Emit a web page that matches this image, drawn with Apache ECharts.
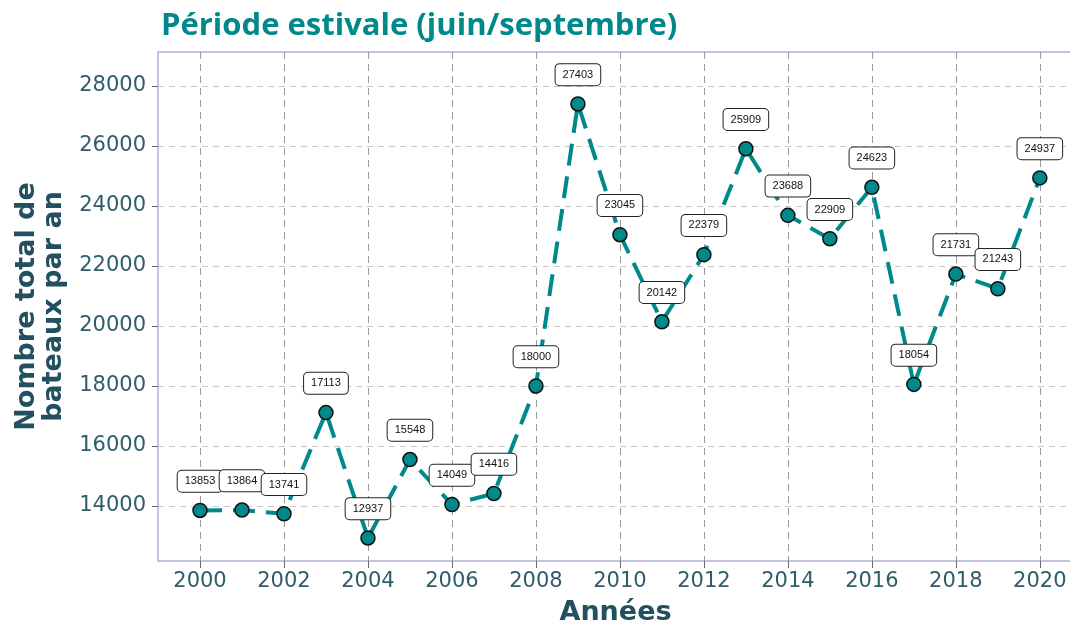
<!DOCTYPE html>
<html>
<head>
<meta charset="utf-8">
<script src="https://cdn.jsdelivr.net/npm/echarts@6/dist/echarts.min.js"></script>
<style>html,body{margin:0;padding:0;background:#fff}#c{width:1070px;height:621px}</style>
</head>
<body>
<div id="c"></div>
<script>
const years = [2000,2001,2002,2003,2004,2005,2006,2007,2008,2009,2010,2011,2012,2013,2014,2015,2016,2017,2018,2019,2020];
const boats = [13853,13864,13741,17113,12937,15548,14049,14416,18000,27403,23045,20142,22379,25909,23688,22909,24623,18054,21731,21243,24937];
const xTicks = [2000,2002,2004,2006,2008,2010,2012,2014,2016,2018,2020];
const yTicks = [14000,16000,18000,20000,22000,24000,26000,28000];

const teal = '#00898a';
const axisText = '#2f5d6b';
const titleCol = '#23505f';

const chart = echarts.init(document.getElementById('c'), null, {renderer:'canvas'});
chart.setOption({
  animation:false,
  backgroundColor:'#fff',
  title:{
    text:'Période estivale (juin/septembre)',
    left:156, top:6,
    textStyle:{color:teal, fontFamily:'Open Sans', fontWeight:'bold', fontSize:31}
  },
  grid:{left:158, top:52, right:-3, bottom:60, outerBoundsMode:'none', containLabel:false,
        show:true, borderColor:'#b3acdf', borderWidth:1.5, backgroundColor:'transparent'},
  xAxis:{
    type:'value', min:1999, max:2020.79,
    name:'Années', nameLocation:'middle', nameGap:38,
    nameTextStyle:{color:titleCol, fontFamily:'DejaVu Sans', fontWeight:'bold', fontSize:27},
    axisLine:{show:false},
    axisTick:{show:true, customValues:xTicks, length:7, lineStyle:{color:'#666', width:1}},
    axisLabel:{customValues:xTicks, color:axisText, fontFamily:'DejaVu Sans', fontSize:21, margin:10, formatter:v=>String(v)},
    splitLine:{show:true, lineStyle:{color:'#9a9a9a', type:[7,5], width:1}}
  },
  yAxis:{
    type:'value', min:12167, max:29133,
    name:'Nombre total de\nbateaux par an', nameLocation:'middle', nameGap:91, nameRotate:90,
    nameTextStyle:{color:titleCol, fontFamily:'DejaVu Sans', fontWeight:'bold', fontSize:27, lineHeight:27},
    axisLine:{show:false},
    axisTick:{show:true, customValues:yTicks, length:6, lineStyle:{color:'#666', width:1}},
    axisLabel:{customValues:yTicks, color:axisText, fontFamily:'DejaVu Sans', fontSize:21, margin:12, formatter:v=>String(v)},
    splitLine:{show:true, lineStyle:{color:'#c8c8c8', type:[6,5], width:1}}
  },
  series:[{
    type:'line',
    data:years.map((y,i)=>[y,boats[i]]),
    lineStyle:{color:teal, width:4, type:[22,11]},
    symbol:'circle', symbolSize:14,
    itemStyle:{color:teal, borderColor:'#111', borderWidth:1.5},
    label:{
      show:true, position:'top', distance:11,
      formatter:p=>String(p.value[1]),
      fontFamily:'Liberation Sans', fontSize:11, color:'#111',
      backgroundColor:'#fff', borderColor:'#222', borderWidth:1, borderRadius:4,
      padding:[5,7,5,7]
    },
    z:3
  }]
});
</script>
</body>
</html>
